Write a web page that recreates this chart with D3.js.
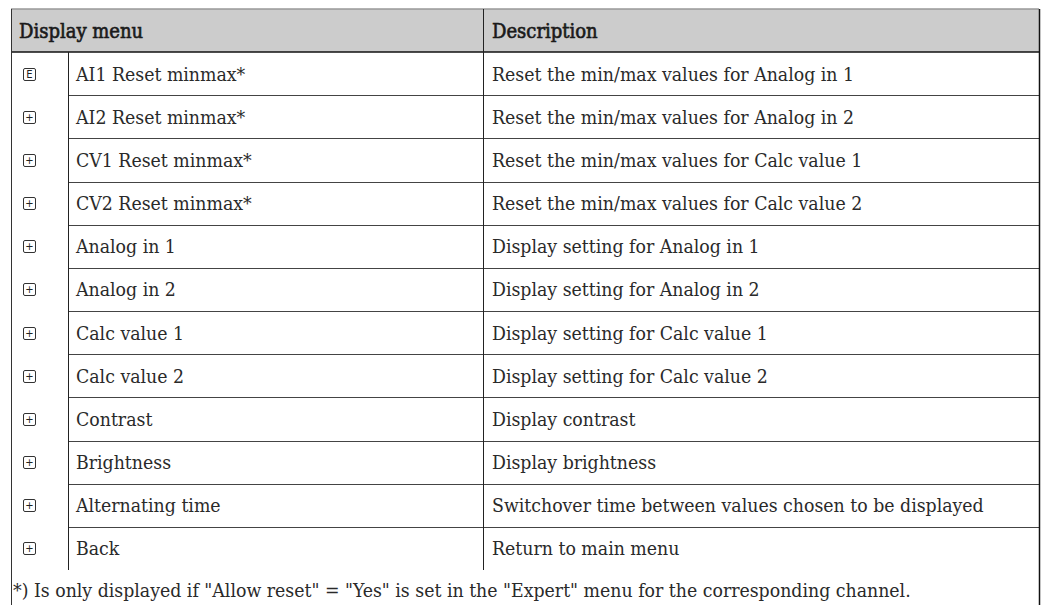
<!DOCTYPE html>
<html>
<head>
<meta charset="utf-8">
<script src="https://cdn.jsdelivr.net/npm/d3@7"></script>
<style>
  html, body { margin: 0; padding: 0; background: #fff; }
  svg { display: block; }
  .t { font-family: 'DejaVu Serif Condensed', 'DejaVu Serif', serif; font-stretch: condensed; }
</style>
</head>
<body>
<svg id="chart" width="1045" height="605"></svg>
<script>
const headers = ["Display menu", "Description"];
const icons = ["E", "+", "+", "+", "+", "+", "+", "+", "+", "+", "+", "+"];
const menuItems = [
  "AI1 Reset minmax*", "AI2 Reset minmax*", "CV1 Reset minmax*", "CV2 Reset minmax*",
  "Analog in 1", "Analog in 2", "Calc value 1", "Calc value 2",
  "Contrast", "Brightness", "Alternating time", "Back"
];
const descriptions = [
  "Reset the min/max values for Analog in 1",
  "Reset the min/max values for Analog in 2",
  "Reset the min/max values for Calc value 1",
  "Reset the min/max values for Calc value 2",
  "Display setting for Analog in 1",
  "Display setting for Analog in 2",
  "Display setting for Calc value 1",
  "Display setting for Calc value 2",
  "Display contrast",
  "Display brightness",
  "Switchover time between values chosen to be displayed",
  "Return to main menu"
];
const footnote = '*) Is only displayed if "Allow reset" = "Yes" is set in the "Expert" menu for the corresponding channel.';

(function () {
const svg = d3.select("#chart");
const xLeft = 11, c1 = 68, c2 = 483, xRight = 1039;
const yTop = 9, headBottom = 52, tableBottom = 570, H = 605;
const FS = 19.3, HFS = 20;

const y = d3.scaleBand().domain(d3.range(menuItems.length)).range([headBottom, tableBottom]);

svg.append("rect").attr("x", xLeft).attr("y", yTop).attr("width", xRight - xLeft).attr("height", headBottom - yTop)
  .attr("fill", "#cccccc");
svg.append("line").attr("x1", xLeft).attr("x2", xRight).attr("y1", yTop).attr("y2", yTop)
  .attr("stroke", "#999").attr("stroke-width", 1.5);

svg.selectAll("line.row").data(d3.range(1, menuItems.length)).join("line")
  .attr("class", "row")
  .attr("x1", c1).attr("x2", xRight)
  .attr("y1", d => Math.round(y(d)) + 0.5).attr("y2", d => Math.round(y(d)) + 0.5)
  .attr("stroke", "#444").attr("stroke-width", 1);

svg.append("line").attr("x1", xLeft).attr("x2", xRight).attr("y1", headBottom).attr("y2", headBottom)
  .attr("stroke", "#111").attr("stroke-width", 1.5);

svg.append("line").attr("x1", c1 + 0.5).attr("x2", c1 + 0.5).attr("y1", headBottom).attr("y2", tableBottom)
  .attr("stroke", "#222").attr("stroke-width", 1);
svg.append("line").attr("x1", c2 + 0.5).attr("x2", c2 + 0.5).attr("y1", yTop).attr("y2", tableBottom)
  .attr("stroke", "#222").attr("stroke-width", 1);
svg.append("line").attr("x1", xLeft + 0.5).attr("x2", xLeft + 0.5).attr("y1", yTop).attr("y2", H)
  .attr("stroke", "#333").attr("stroke-width", 1);
svg.append("line").attr("x1", xRight + 0.5).attr("x2", xRight + 0.5).attr("y1", yTop).attr("y2", H)
  .attr("stroke", "#111").attr("stroke-width", 1.5);

svg.selectAll("text.head").data(headers).join("text")
  .attr("class", "head t")
  .attr("x", (d, i) => i === 0 ? 19 : 492)
  .attr("y", (yTop + headBottom) / 2)
  .attr("dy", "0.36em")
  .attr("font-size", HFS)
  .attr("fill", "#1a1a1a").attr("stroke", "#1a1a1a").attr("stroke-width", 0.6)
  .text(d => d);

const ic = svg.selectAll("g.icon").data(icons).join("g")
  .attr("class", "icon")
  .attr("transform", (d, i) => `translate(29.5,${Math.round(y(i) + y.bandwidth() / 2) + 0.5})`);
ic.append("rect").attr("x", -6).attr("y", -6).attr("width", 12).attr("height", 12).attr("rx", 1.5)
  .attr("fill", "none").attr("stroke", "#333").attr("stroke-width", 1);
ic.append("text").attr("text-anchor", "middle").attr("dy", "0.36em")
  .attr("font-family", "'DejaVu Sans', sans-serif").attr("font-size", 10).attr("fill", "#222")
  .text(d => d);

svg.selectAll("text.item").data(menuItems).join("text")
  .attr("class", "item t")
  .attr("x", 76)
  .attr("y", (d, i) => y(i) + y.bandwidth() / 2)
  .attr("dy", "0.36em")
  .attr("font-size", FS).attr("fill", "#2a2a2a")
  .text(d => d);

svg.selectAll("text.desc").data(descriptions).join("text")
  .attr("class", "desc t")
  .attr("x", 492)
  .attr("y", (d, i) => y(i) + y.bandwidth() / 2)
  .attr("dy", "0.36em")
  .attr("font-size", FS).attr("fill", "#2a2a2a")
  .text(d => d);

svg.append("text").attr("class", "t").attr("x", 13).attr("y", 590).attr("dy", "0.36em")
  .attr("font-size", FS).attr("fill", "#2a2a2a")
  .text(footnote);
})();
</script>
</body>
</html>
